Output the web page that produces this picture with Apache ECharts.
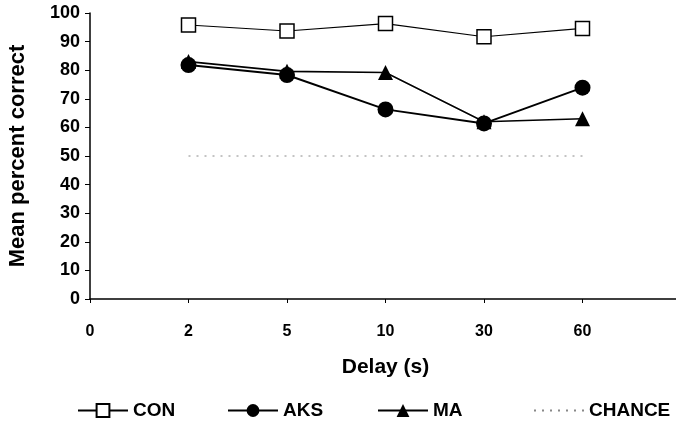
<!DOCTYPE html>
<html>
<head>
<meta charset="utf-8">
<script src="https://cdn.jsdelivr.net/npm/echarts@6/dist/echarts.min.js"></script>
<style>
html, body { margin: 0; padding: 0; background: #fff; }
#chart { width: 676px; height: 421px; }
</style>
</head>
<body>
<div id="chart"></div>
<script>
var delays = ['0', '2', '5', '10', '30', '60', ''];
var conData = [null, 95.8, 93.7, 96.3, 91.7, 94.6, null];
var aksData = [null, 81.8, 78.3, 66.3, 61.4, 73.9, null];
var maData = [null, 83, 79.6, 79.2, 62, 63, null];
var chanceData = [null, 50, 50, 50, 50, 50, null];

var fontFam = 'Liberation Sans, Arial, sans-serif';

function makeLegend(name, left, hideSymbol) {
	var lg = {
		data: [name],
		left: left,
		top: 396,
		itemWidth: 50,
		itemHeight: 16,
		itemGap: 4,
		textStyle: { fontFamily: fontFam, fontWeight: 'bold', fontSize: 19, color: '#000' }
	};
	if (hideSymbol) {
		lg.itemStyle = { color: 'transparent', borderColor: 'transparent', borderWidth: 0 };
	}
	return lg;
}

var option = {
	animation: false,
	backgroundColor: '#fff',
	grid: { left: 90, top: 13, width: 591, height: 286, containLabel: false, outerBoundsMode: 'none' },
	legend: [
		makeLegend('CON', 72),
		makeLegend('AKS', 222),
		makeLegend('MA', 372),
		makeLegend('CHANCE', 528, true)
	],
	xAxis: {
		type: 'category',
		data: delays,
		boundaryGap: false,
		name: 'Delay (s)',
		nameLocation: 'middle',
		nameGap: 58,
		nameTextStyle: { fontFamily: fontFam, fontWeight: 'bold', fontSize: 21, color: '#000' },
		axisLine: { lineStyle: { color: '#000', width: 1.5 } },
		axisTick: { show: true, length: 4, lineStyle: { color: '#000' } },
		axisLabel: { fontFamily: fontFam, fontWeight: 'bold', fontSize: 16, color: '#000', margin: 25 },
		splitLine: { show: false }
	},
	yAxis: {
		type: 'value',
		min: 0,
		max: 100,
		interval: 10,
		name: 'Mean percent correct',
		nameLocation: 'middle',
		nameGap: 61,
		nameTextStyle: { fontFamily: fontFam, fontWeight: 'bold', fontSize: 22, color: '#000' },
		axisLine: { show: true, lineStyle: { color: '#000', width: 1.5 } },
		axisTick: { show: true, length: 5, lineStyle: { color: '#000' } },
		axisLabel: { fontFamily: fontFam, fontWeight: 'bold', fontSize: 18, color: '#000', margin: 10 },
		splitLine: { show: false }
	},
	series: [
		{
			name: 'CON',
			type: 'line',
			data: conData,
			symbol: 'rect',
			symbolSize: 14,
			itemStyle: { color: '#fff', borderColor: '#000', borderWidth: 1.5 },
			lineStyle: { color: '#000', width: 1.2 },
			z: 3
		},
		{
			name: 'AKS',
			type: 'line',
			data: aksData,
			symbol: 'circle',
			symbolSize: 16,
			itemStyle: { color: '#000' },
			lineStyle: { color: '#000', width: 2 },
			z: 4
		},
		{
			name: 'MA',
			type: 'line',
			data: maData,
			symbol: 'triangle',
			symbolSize: 15,
			itemStyle: { color: '#000' },
			lineStyle: { color: '#000', width: 1.6 },
			z: 5
		},
		{
			name: 'CHANCE',
			type: 'line',
			data: chanceData,
			symbol: 'none',
			itemStyle: { color: '#888' },
			lineStyle: { color: '#888', width: 1, type: [2, 6] },
			z: 2
		}
	]
};

echarts.init(document.getElementById('chart')).setOption(option);
</script>
</body>
</html>
